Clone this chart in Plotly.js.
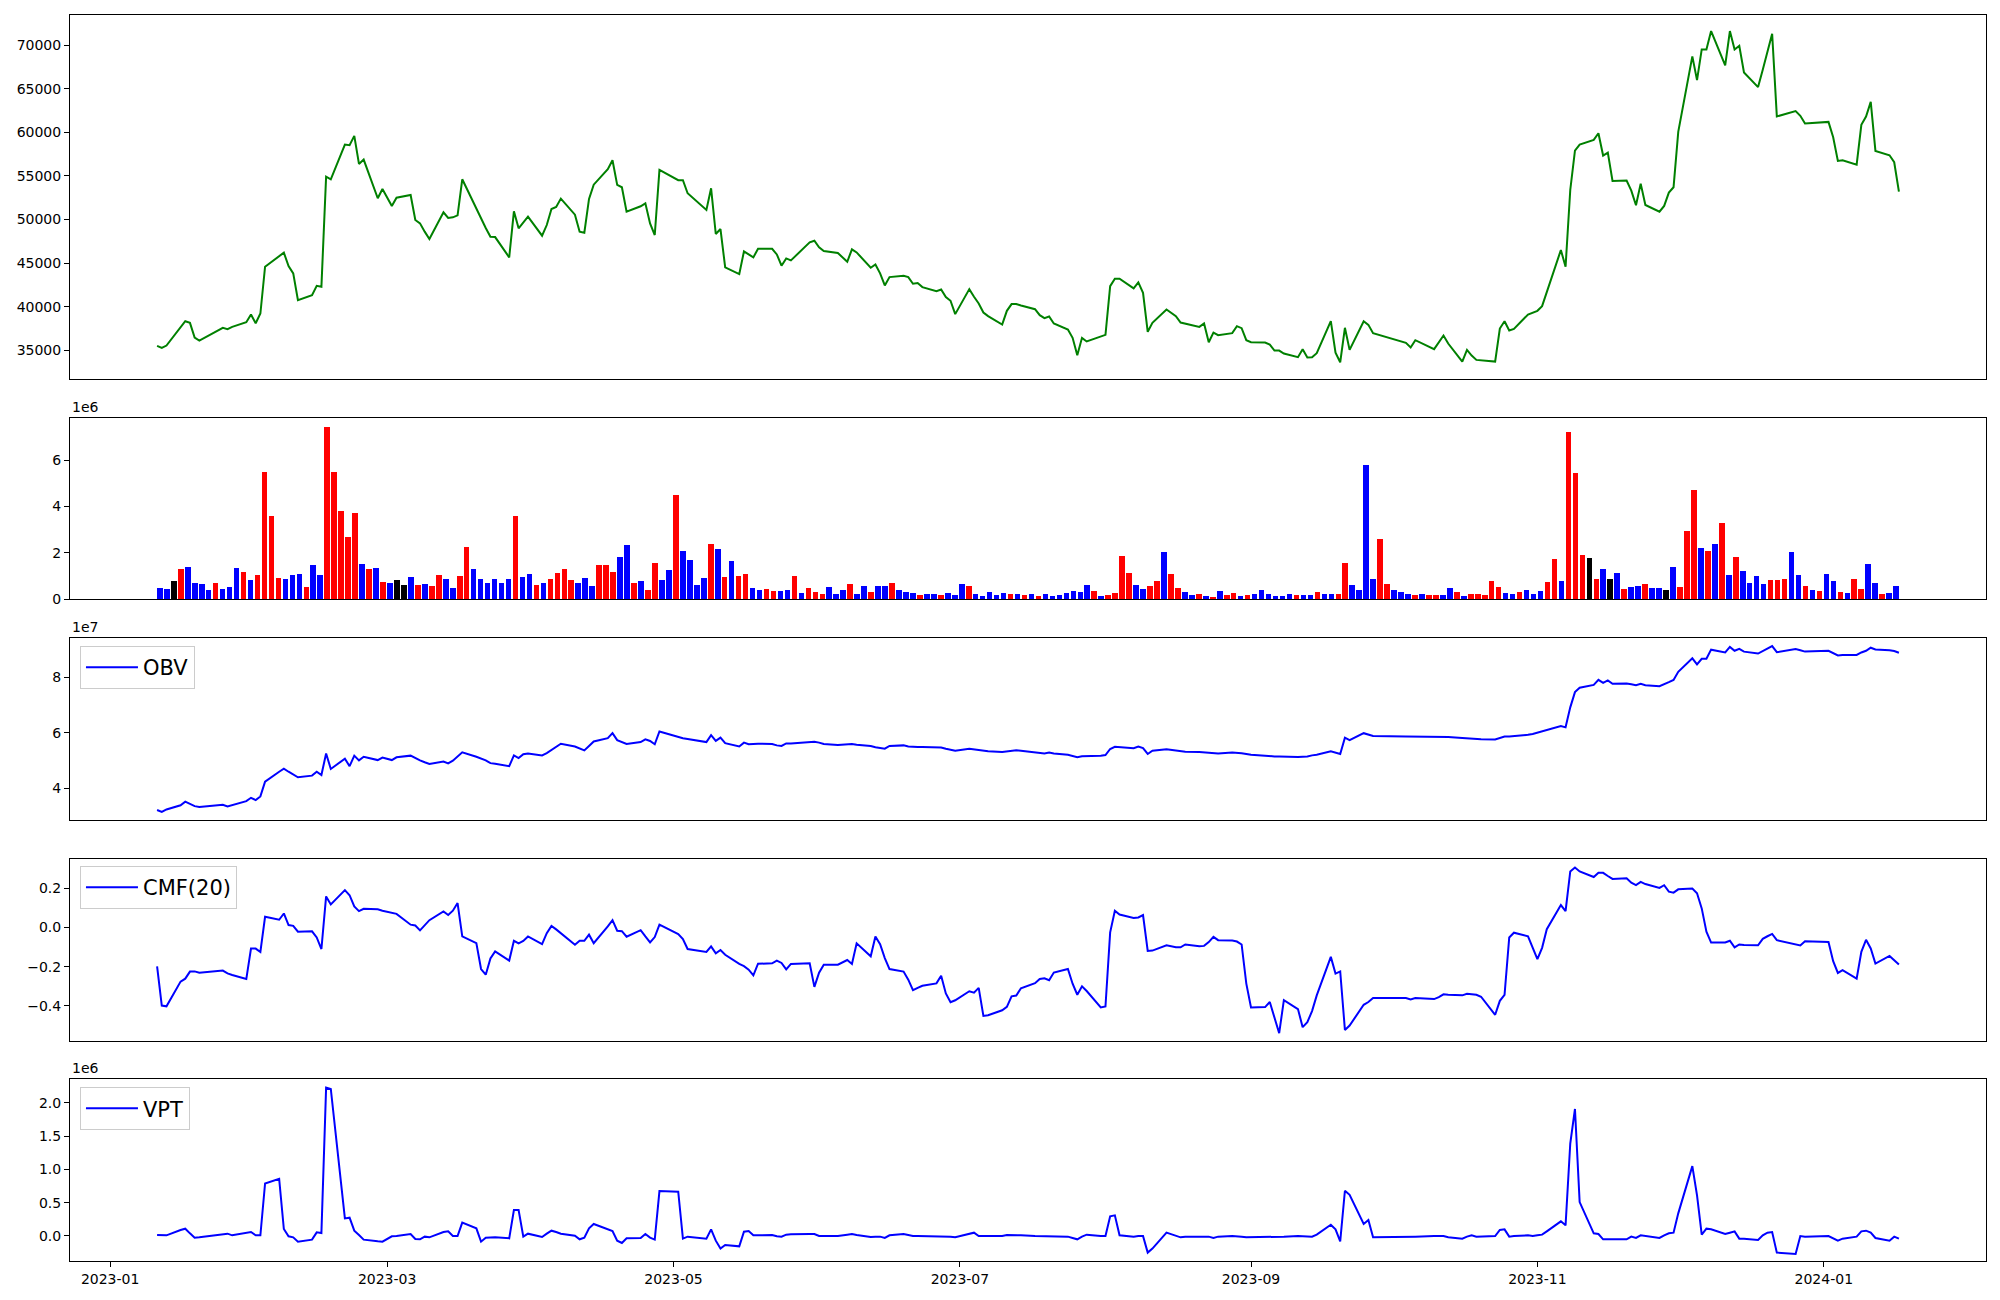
<!DOCTYPE html>
<html>
<head>
<meta charset="utf-8">
<script src="https://cdn.plot.ly/plotly-3.0.1.min.js"></script>
<style>html,body{margin:0;padding:0;background:#fff;}#chart{width:2000px;height:1300px;}</style>
</head>
<body>
<div id="chart"></div>
<script>
// Trading dates (KRX calendar)
const tradeDates = [
'2023-01-11','2023-01-12','2023-01-13','2023-01-16','2023-01-17','2023-01-18','2023-01-19','2023-01-20','2023-01-25','2023-01-26','2023-01-27','2023-01-30','2023-01-31',
'2023-02-01','2023-02-02','2023-02-03','2023-02-06','2023-02-07','2023-02-08','2023-02-09','2023-02-10','2023-02-13','2023-02-14','2023-02-15','2023-02-16','2023-02-17','2023-02-20','2023-02-21','2023-02-22','2023-02-23','2023-02-24','2023-02-27','2023-02-28',
'2023-03-02','2023-03-03','2023-03-06','2023-03-07','2023-03-08','2023-03-09','2023-03-10','2023-03-13','2023-03-14','2023-03-15','2023-03-16','2023-03-17','2023-03-20','2023-03-21','2023-03-22','2023-03-23','2023-03-24','2023-03-27','2023-03-28','2023-03-29','2023-03-30','2023-03-31',
'2023-04-03','2023-04-04','2023-04-05','2023-04-06','2023-04-07','2023-04-10','2023-04-11','2023-04-12','2023-04-13','2023-04-14','2023-04-17','2023-04-18','2023-04-19','2023-04-20','2023-04-21','2023-04-24','2023-04-25','2023-04-26','2023-04-27','2023-04-28',
'2023-05-02','2023-05-03','2023-05-04','2023-05-08','2023-05-09','2023-05-10','2023-05-11','2023-05-12','2023-05-15','2023-05-16','2023-05-17','2023-05-18','2023-05-19','2023-05-22','2023-05-23','2023-05-24','2023-05-25','2023-05-26','2023-05-30','2023-05-31',
'2023-06-01','2023-06-02','2023-06-05','2023-06-07','2023-06-08','2023-06-09','2023-06-12','2023-06-13','2023-06-14','2023-06-15','2023-06-16','2023-06-19','2023-06-20','2023-06-21','2023-06-22','2023-06-23','2023-06-26','2023-06-27','2023-06-28','2023-06-29','2023-06-30',
'2023-07-03','2023-07-04','2023-07-05','2023-07-06','2023-07-07','2023-07-10','2023-07-11','2023-07-12','2023-07-13','2023-07-14','2023-07-17','2023-07-18','2023-07-19','2023-07-20','2023-07-21','2023-07-24','2023-07-25','2023-07-26','2023-07-27','2023-07-28','2023-07-31',
'2023-08-01','2023-08-02','2023-08-03','2023-08-04','2023-08-07','2023-08-08','2023-08-09','2023-08-10','2023-08-11','2023-08-14','2023-08-16','2023-08-17','2023-08-18','2023-08-21','2023-08-22','2023-08-23','2023-08-24','2023-08-25','2023-08-28','2023-08-29','2023-08-30','2023-08-31',
'2023-09-01','2023-09-04','2023-09-05','2023-09-06','2023-09-07','2023-09-08','2023-09-11','2023-09-12','2023-09-13','2023-09-14','2023-09-15','2023-09-18','2023-09-19','2023-09-20','2023-09-21','2023-09-22','2023-09-25','2023-09-26','2023-09-27',
'2023-10-04','2023-10-05','2023-10-06','2023-10-10','2023-10-11','2023-10-12','2023-10-13','2023-10-16','2023-10-17','2023-10-18','2023-10-19','2023-10-20','2023-10-23','2023-10-24','2023-10-25','2023-10-26','2023-10-27','2023-10-30','2023-10-31',
'2023-11-01','2023-11-02','2023-11-03','2023-11-06','2023-11-07','2023-11-08','2023-11-09','2023-11-10','2023-11-13','2023-11-14','2023-11-15','2023-11-16','2023-11-17','2023-11-20','2023-11-21','2023-11-22','2023-11-23','2023-11-24','2023-11-27','2023-11-28','2023-11-29','2023-11-30',
'2023-12-01','2023-12-04','2023-12-05','2023-12-06','2023-12-07','2023-12-08','2023-12-11','2023-12-12','2023-12-13','2023-12-14','2023-12-15','2023-12-18','2023-12-19','2023-12-20','2023-12-21','2023-12-22','2023-12-26','2023-12-27','2023-12-28',
'2024-01-02','2024-01-03','2024-01-04','2024-01-05','2024-01-08','2024-01-09','2024-01-10','2024-01-11','2024-01-12','2024-01-15','2024-01-16','2024-01-17'
];

// Close price
const closePrice = [
35500,35270,35540,37680,38330,38140,36460,36110,37570,37420,
37680,38220,39100,38100,39210,44580,45840,46190,44660,43810,
40750,41320,42390,42280,54910,54610,58590,58510,59580,56370,
56870,52430,53500,51550,52500,52810,49940,49550,48600,47750,
50820,50170,50240,50470,54610,51160,50090,49020,48020,47980,
45650,50930,48980,49630,50320,48140,49360,51200,51430,52390,
50550,48600,48480,52350,53990,55760,56790,53960,53690,50890,
51510,51850,49550,48210,55680,54500,54500,53000,51090,53570,
48330,48900,44500,43730,46340,45990,45650,46640,46640,45990,
44690,45530,45300,47370,47560,46800,46380,46150,45150,46570,
46220,44460,44840,43810,42430,43390,43540,43390,42620,42700,
42240,41780,41970,41090,40670,39140,42010,41130,40360,39330,
38910,37950,39520,40290,40290,40130,39710,39020,38680,38870,
38070,37380,36420,34430,36420,36000,36610,36760,42350,43200,
43200,42090,42780,41590,37110,38140,39670,38910,38180,38070,
37680,38070,35920,37030,36730,36960,37760,37530,36150,35920,
35880,35650,34960,34960,34620,34200,35120,34160,34200,34660,
38330,34730,33620,37570,35040,38330,37910,36960,35840,35310,
36150,35120,35880,36690,35770,33700,35040,34390,33890,33850,
33700,37490,38330,37260,37450,39100,39290,39520,40060,41670,
46490,44580,53380,57900,58590,59130,59890,57330,57670,54420,
54460,53310,51620,54110,51660,50890,51550,53080,53690,60040,
68700,65980,69500,69500,71610,67660,71610,69500,69920,66860,
65180,67170,69230,71300,61810,62420,61890,61000,61190,59430,
56710,56790,56290,60850,61810,63490,57860,57360,56560,53190
];

// Volume (x1e6)
const volumeM = [
0.49,0.44,0.79,1.30,1.39,0.70,0.66,0.40,0.70,0.44,
0.53,1.34,1.17,0.83,1.04,5.50,3.61,0.91,0.87,1.04,
1.09,0.53,1.47,1.04,7.43,5.50,3.79,2.67,3.74,1.51,
1.30,1.34,0.74,0.70,0.83,0.61,0.96,0.61,0.66,0.57,
1.04,0.87,0.49,1.00,2.24,1.30,0.87,0.70,0.87,0.70,
0.87,3.61,0.96,1.09,0.61,0.70,0.87,1.13,1.30,0.83,
0.70,0.91,0.57,1.47,1.47,1.17,1.81,2.33,0.70,0.79,
0.40,1.56,0.83,1.26,4.51,2.07,1.69,0.61,0.91,2.37,
2.16,0.96,1.64,1.00,1.09,0.49,0.40,0.44,0.36,0.36,
0.40,1.00,0.27,0.49,0.31,0.23,0.53,0.23,0.40,0.66,
0.23,0.57,0.31,0.57,0.57,0.70,0.40,0.31,0.27,0.19,
0.23,0.23,0.19,0.27,0.19,0.66,0.57,0.23,0.14,0.31,
0.19,0.27,0.23,0.23,0.19,0.23,0.14,0.23,0.14,0.19,
0.27,0.36,0.31,0.61,0.36,0.14,0.19,0.27,1.86,1.13,
0.61,0.44,0.57,0.79,2.03,1.09,0.49,0.31,0.19,0.23,
0.14,0.10,0.36,0.19,0.27,0.14,0.19,0.23,0.40,0.23,
0.14,0.14,0.23,0.19,0.19,0.19,0.31,0.23,0.23,0.23,
1.56,0.61,0.40,5.80,0.87,2.59,0.66,0.40,0.31,0.23,
0.19,0.23,0.19,0.19,0.19,0.49,0.31,0.14,0.23,0.23,
0.19,0.79,0.53,0.27,0.23,0.31,0.40,0.23,0.36,0.74,
1.73,0.79,7.21,5.46,1.90,1.77,0.87,1.30,0.87,1.13,
0.44,0.53,0.57,0.66,0.49,0.49,0.40,1.39,0.53,2.93,
4.69,2.20,2.07,2.37,3.27,1.04,1.81,1.21,0.70,1.00,
0.66,0.83,0.83,0.87,2.03,1.04,0.57,0.40,0.36,1.09,
0.79,0.31,0.27,0.87,0.44,1.51,0.70,0.23,0.27,0.57
];

// Day direction: 1 = up, -1 = down, 0 = unchanged
const dayDirection = [
-1,-1,0,1,-1,-1,-1,-1,1,-1,
-1,-1,1,-1,1,1,1,1,-1,-1,
-1,1,-1,-1,1,1,1,1,1,-1,
1,-1,1,-1,0,0,-1,1,-1,1,
1,-1,-1,1,1,-1,-1,-1,-1,-1,
-1,1,-1,-1,1,-1,1,1,1,1,
-1,-1,-1,1,1,1,-1,-1,1,-1,
1,1,-1,-1,1,-1,-1,-1,-1,1,
-1,1,-1,1,1,-1,-1,1,1,-1,
-1,1,-1,1,1,1,-1,-1,-1,1,
-1,-1,1,-1,-1,1,-1,-1,-1,1,
-1,-1,1,-1,-1,-1,1,-1,-1,-1,
-1,-1,1,-1,1,-1,1,-1,-1,-1,
-1,-1,-1,-1,1,-1,1,1,1,1,
-1,-1,1,1,-1,1,1,-1,-1,1,
-1,1,-1,1,1,-1,1,-1,-1,-1,
-1,-1,-1,1,-1,-1,1,-1,-1,1,
1,-1,-1,-1,-1,1,1,-1,-1,-1,
1,-1,1,1,-1,-1,1,-1,1,1,
1,1,1,-1,-1,1,-1,-1,-1,1,
1,-1,1,1,1,0,1,-1,0,-1,
1,-1,-1,1,-1,-1,0,-1,1,1,
1,-1,1,-1,1,-1,1,-1,-1,-1,
-1,1,1,1,-1,-1,1,-1,1,-1,
-1,1,-1,1,1,-1,-1,1,-1,-1
];

// OBV (x1e7)
const obvE7 = [
3.22,3.15,3.24,3.39,3.52,3.44,3.36,3.33,3.41,3.35,
3.40,3.54,3.66,3.58,3.71,4.24,4.60,4.71,4.60,4.49,
4.40,4.46,4.60,4.48,5.26,4.70,5.07,4.80,5.18,5.01,
5.14,5.02,5.11,5.02,5.12,5.18,5.08,5.01,4.94,4.88,
4.97,4.90,5.00,5.14,5.30,5.14,5.08,5.01,4.91,4.89,
4.80,5.19,5.09,5.23,5.26,5.19,5.27,5.38,5.49,5.61,
5.51,5.44,5.37,5.53,5.69,5.81,5.99,5.74,5.67,5.60,
5.67,5.77,5.71,5.59,6.05,5.84,5.81,5.78,5.67,5.92,
5.71,5.83,5.63,5.51,5.65,5.59,5.60,5.61,5.60,5.55,
5.53,5.62,5.62,5.67,5.68,5.65,5.60,5.56,5.57,5.60,
5.57,5.53,5.48,5.45,5.43,5.53,5.55,5.51,5.49,5.49,
5.49,5.47,5.47,5.43,5.39,5.36,5.43,5.41,5.37,5.35,
5.34,5.31,5.33,5.36,5.37,5.36,5.30,5.29,5.26,5.29,
5.26,5.21,5.16,5.12,5.16,5.16,5.18,5.20,5.42,5.50,
5.49,5.45,5.51,5.45,5.24,5.36,5.41,5.37,5.35,5.32,
5.31,5.30,5.29,5.27,5.26,5.29,5.29,5.27,5.24,5.21,
5.18,5.16,5.15,5.15,5.14,5.13,5.14,5.15,5.19,5.21,
5.34,5.28,5.24,5.83,5.74,5.99,5.94,5.89,5.87,5.87,
5.85,5.85,5.87,5.87,5.85,5.82,5.81,5.80,5.77,5.77,
5.76,5.82,5.87,5.87,5.88,5.93,5.96,6.01,6.05,6.11,
6.25,6.20,6.92,7.47,7.63,7.73,7.91,7.80,7.89,7.77,
7.78,7.75,7.72,7.77,7.72,7.68,7.77,7.83,7.91,8.20,
8.69,8.47,8.67,8.67,9.00,8.90,9.10,8.96,9.03,8.93,
8.86,8.96,9.04,9.13,8.91,9.02,8.98,8.93,8.96,8.86,
8.79,8.81,8.81,8.90,8.96,9.07,9.01,8.98,8.95,8.89
];

// CMF(20)
const cmf20 = [
-0.198,-0.398,-0.402,-0.276,-0.261,-0.225,-0.224,-0.231,-0.220,-0.234,
-0.242,-0.263,-0.108,-0.108,-0.125,0.054,0.039,0.071,0.012,0.008,
-0.022,-0.020,-0.051,-0.110,0.158,0.117,0.190,0.164,0.107,0.083,
0.095,0.092,0.085,0.076,0.069,0.014,0.010,-0.015,0.010,0.037,
0.081,0.063,0.085,0.124,-0.046,-0.080,-0.212,-0.241,-0.158,-0.122,
-0.169,-0.068,-0.081,-0.069,-0.046,-0.085,-0.029,0.008,-0.010,-0.029,
-0.088,-0.068,-0.068,-0.037,-0.080,0.005,0.037,-0.017,-0.019,-0.047,
-0.014,-0.046,-0.076,-0.049,0.014,-0.034,-0.059,-0.110,-0.125,-0.097,
-0.132,-0.115,-0.139,-0.186,-0.197,-0.215,-0.244,-0.185,-0.183,-0.169,
-0.181,-0.214,-0.186,-0.183,-0.303,-0.231,-0.190,-0.190,-0.166,-0.186,
-0.081,-0.147,-0.046,-0.085,-0.156,-0.212,-0.225,-0.266,-0.320,-0.308,
-0.297,-0.285,-0.246,-0.336,-0.381,-0.371,-0.325,-0.332,-0.308,-0.451,
-0.447,-0.422,-0.405,-0.351,-0.347,-0.310,-0.284,-0.263,-0.259,-0.269,
-0.230,-0.212,-0.287,-0.343,-0.300,-0.324,-0.408,-0.403,-0.025,0.085,
0.066,0.048,0.051,0.063,-0.120,-0.118,-0.091,-0.101,-0.101,-0.087,
-0.096,-0.094,-0.075,-0.048,-0.065,-0.067,-0.072,-0.087,-0.286,-0.408,
-0.406,-0.380,-0.466,-0.539,-0.370,-0.416,-0.508,-0.483,-0.426,-0.346,
-0.150,-0.235,-0.224,-0.522,-0.500,-0.394,-0.380,-0.360,-0.360,-0.367,
-0.360,-0.365,-0.355,-0.341,-0.343,-0.346,-0.338,-0.339,-0.343,-0.353,
-0.445,-0.374,-0.343,-0.051,-0.027,-0.045,-0.108,-0.162,-0.104,-0.009,
0.114,0.083,0.285,0.305,0.285,0.257,0.279,0.278,0.262,0.247,
0.250,0.228,0.216,0.232,0.221,0.201,0.215,0.182,0.177,0.194,
0.198,0.174,0.097,-0.022,-0.077,-0.077,-0.068,-0.102,-0.087,-0.089,
-0.091,-0.058,-0.045,-0.033,-0.065,-0.084,-0.092,-0.070,-0.074,-0.172,
-0.232,-0.218,-0.261,-0.124,-0.063,-0.107,-0.184,-0.145,-0.167,-0.189
];

// VPT (x1e6)
const vptE6 = [
0.015,0.015,0.010,0.09,0.11,0.04,-0.025,-0.02,0.035,0.035,
0.01,0.045,0.06,0.01,0.01,0.79,0.86,0.105,-0.005,-0.02,
-0.085,-0.055,0.055,0.045,2.23,2.21,0.265,0.275,0.08,0.015,
-0.055,-0.08,-0.085,-0.005,0.0,0.03,-0.045,-0.05,-0.01,-0.02,
0.06,0.07,0.0,0.0,0.20,0.115,-0.085,-0.025,-0.025,-0.02,
-0.035,0.39,0.39,-0.01,0.035,-0.015,0.035,0.08,0.06,0.035,
0.005,-0.05,-0.025,0.115,0.18,0.105,0.075,-0.07,-0.105,-0.035,
-0.03,0.03,-0.025,-0.055,0.675,0.665,-0.04,-0.01,-0.04,0.10,
-0.07,-0.19,-0.135,-0.155,0.065,0.075,0.01,0.01,0.015,-0.005,
-0.01,0.02,0.025,0.03,0.03,0.0,0.0,0.0,0.02,0.03,
0.015,-0.015,-0.01,-0.01,-0.03,0.01,0.03,0.015,0.0,0.0,
0.0,0.0,0.0,0.0,-0.01,-0.02,0.035,0.05,0.0,0.0,
0.0,0.0,0.015,0.01,0.01,0.01,0.0,0.0,0.0,0.0,
-0.005,-0.01,-0.03,-0.05,-0.01,0.02,0.0,0.0,0.295,0.31,
0.01,-0.01,0.0,0.0,-0.25,-0.19,0.05,0.01,-0.02,-0.01,
-0.01,-0.01,-0.01,-0.03,-0.01,0.0,0.0,-0.01,-0.02,-0.02,
-0.01,-0.01,-0.01,-0.01,-0.01,0.0,0.0,0.0,-0.01,0.02,
0.17,0.10,-0.08,0.68,0.62,0.18,0.24,-0.02,-0.02,-0.02,
-0.01,0.0,0.0,0.0,-0.02,-0.04,-0.01,0.01,-0.01,-0.01,
0.0,0.09,0.10,-0.01,0.0,0.01,0.0,0.01,0.02,0.07,
0.22,0.16,1.39,1.91,0.51,0.04,0.03,-0.05,-0.05,-0.06,
-0.05,-0.01,-0.03,0.01,0.0,-0.03,0.01,0.04,0.05,0.34,
1.05,0.61,0.02,0.11,0.10,0.03,0.05,0.07,-0.04,-0.04,
-0.06,0.01,0.05,0.06,-0.25,-0.27,0.0,-0.01,0.0,-0.04,
-0.07,-0.04,-0.01,0.07,0.08,0.05,-0.03,-0.07,-0.01,-0.04
];

// Tick labels
const priceTicks = [35000,40000,45000,50000,55000,60000,65000,70000];
const volTicks = [0,2,4,6];
const volTickText = ['0','2','4','6'];
const obvTicks = [4,6,8];
const obvTickText = ['4','6','8'];
const cmfTicks = [-0.4,-0.2,0,0.2];
const cmfTickText = ['\u22120.4','\u22120.2','0.0','0.2'];
const vptTicks = [0,0.5,1.0,1.5,2.0];
const vptTickText = ['0.0','0.5','1.0','1.5','2.0'];
const legendNames = ['OBV','CMF(20)','VPT'];

const FONT = 'DejaVu Sans, Arial, sans-serif';
const dirColor = {'1':'#ff0000','-1':'#0000ff','0':'#000000'};
const barIndex = volumeM.map((v,i)=>i);
const dateRange = ['2022-12-23 10:48','2024-02-04 13:12'];

const traces = [
  {x: tradeDates, y: closePrice, type:'scatter', mode:'lines', line:{color:'#008000', width:2}, xaxis:'x', yaxis:'y', showlegend:false},
  {x: barIndex, y: volumeM, type:'bar', width:0.8, marker:{color: dayDirection.map(d=>dirColor[String(d)]), line:{width:0}}, xaxis:'x2', yaxis:'y2', showlegend:false},
  {x: tradeDates, y: obvE7, type:'scatter', mode:'lines', name: legendNames[0], line:{color:'#0000ff', width:2}, xaxis:'x3', yaxis:'y3', legend:'legend'},
  {x: tradeDates, y: cmf20, type:'scatter', mode:'lines', name: legendNames[1], line:{color:'#0000ff', width:2}, xaxis:'x4', yaxis:'y4', legend:'legend2'},
  {x: tradeDates, y: vptE6, type:'scatter', mode:'lines', name: legendNames[2], line:{color:'#0000ff', width:2}, xaxis:'x5', yaxis:'y5', legend:'legend3'}
];

const axBase = {showline:true, mirror:true, linecolor:'#000', linewidth:1, showgrid:false, zeroline:false,
  ticks:'outside', ticklen:5, tickwidth:1, tickcolor:'#000', tickfont:{family:FONT, size:14, color:'#000'}};
const xHidden = Object.assign({}, axBase, {type:'date', range:dateRange, showticklabels:false, ticks:''});

const legBase = {font:{family:FONT, size:21, color:'#000'}, bgcolor:'rgba(255,255,255,0.8)', bordercolor:'#cccccc', borderwidth:1,
  xanchor:'left', yanchor:'top', x:0.0052, itemwidth:52, tracegroupgap:0};

const layout = {
  width:2000, height:1300,
  margin:{l:70, r:14, t:15, b:39},
  paper_bgcolor:'#fff', plot_bgcolor:'#fff',
  font:{family:FONT, size:14, color:'#000'},
  bargap:0,
  xaxis: Object.assign({}, xHidden, {anchor:'y'}),
  xaxis2: Object.assign({}, axBase, {anchor:'y2', range:[-12.89, 261.89], showticklabels:false, ticks:''}),
  xaxis3: Object.assign({}, xHidden, {anchor:'y3'}),
  xaxis4: Object.assign({}, xHidden, {anchor:'y4'}),
  xaxis5: Object.assign({}, axBase, {anchor:'y5', type:'date', range:dateRange, tick0:'2023-01-01', dtick:'M2', tickformat:'%Y-%m'}),
  yaxis: Object.assign({}, axBase, {domain:[0.70787, 1], range:[31700, 73450], tickvals:priceTicks, tickformat:'d'}),
  yaxis2: Object.assign({}, axBase, {domain:[0.53106, 0.67632], range:[0, 7.80], tickvals:volTicks, ticktext:volTickText}),
  yaxis3: Object.assign({}, axBase, {domain:[0.35393, 0.49976], range:[2.86, 9.41], tickvals:obvTicks, ticktext:obvTickText}),
  yaxis4: Object.assign({}, axBase, {domain:[0.17681, 0.32239], range:[-0.577, 0.347], tickvals:cmfTicks, ticktext:cmfTickText}),
  yaxis5: Object.assign({}, axBase, {domain:[0, 0.14583], range:[-0.376, 2.356], tickvals:vptTicks, ticktext:vptTickText}),
  legend: Object.assign({}, legBase, {y:0.4935}),
  legend2: Object.assign({}, legBase, {y:0.3170}),
  legend3: Object.assign({}, legBase, {y:0.1395}),
  annotations: [
    {text:'1e6', xref:'paper', yref:'paper', x:0, y:0.67632, xanchor:'left', yanchor:'bottom', yshift:1, showarrow:false, font:{family:FONT, size:14, color:'#000'}},
    {text:'1e7', xref:'paper', yref:'paper', x:0, y:0.49976, xanchor:'left', yanchor:'bottom', yshift:1, showarrow:false, font:{family:FONT, size:14, color:'#000'}},
    {text:'1e6', xref:'paper', yref:'paper', x:0, y:0.14583, xanchor:'left', yanchor:'bottom', yshift:1, showarrow:false, font:{family:FONT, size:14, color:'#000'}}
  ]
};

Plotly.newPlot('chart', traces, layout, {staticPlot:true, displayModeBar:false});
</script>
</body>
</html>
